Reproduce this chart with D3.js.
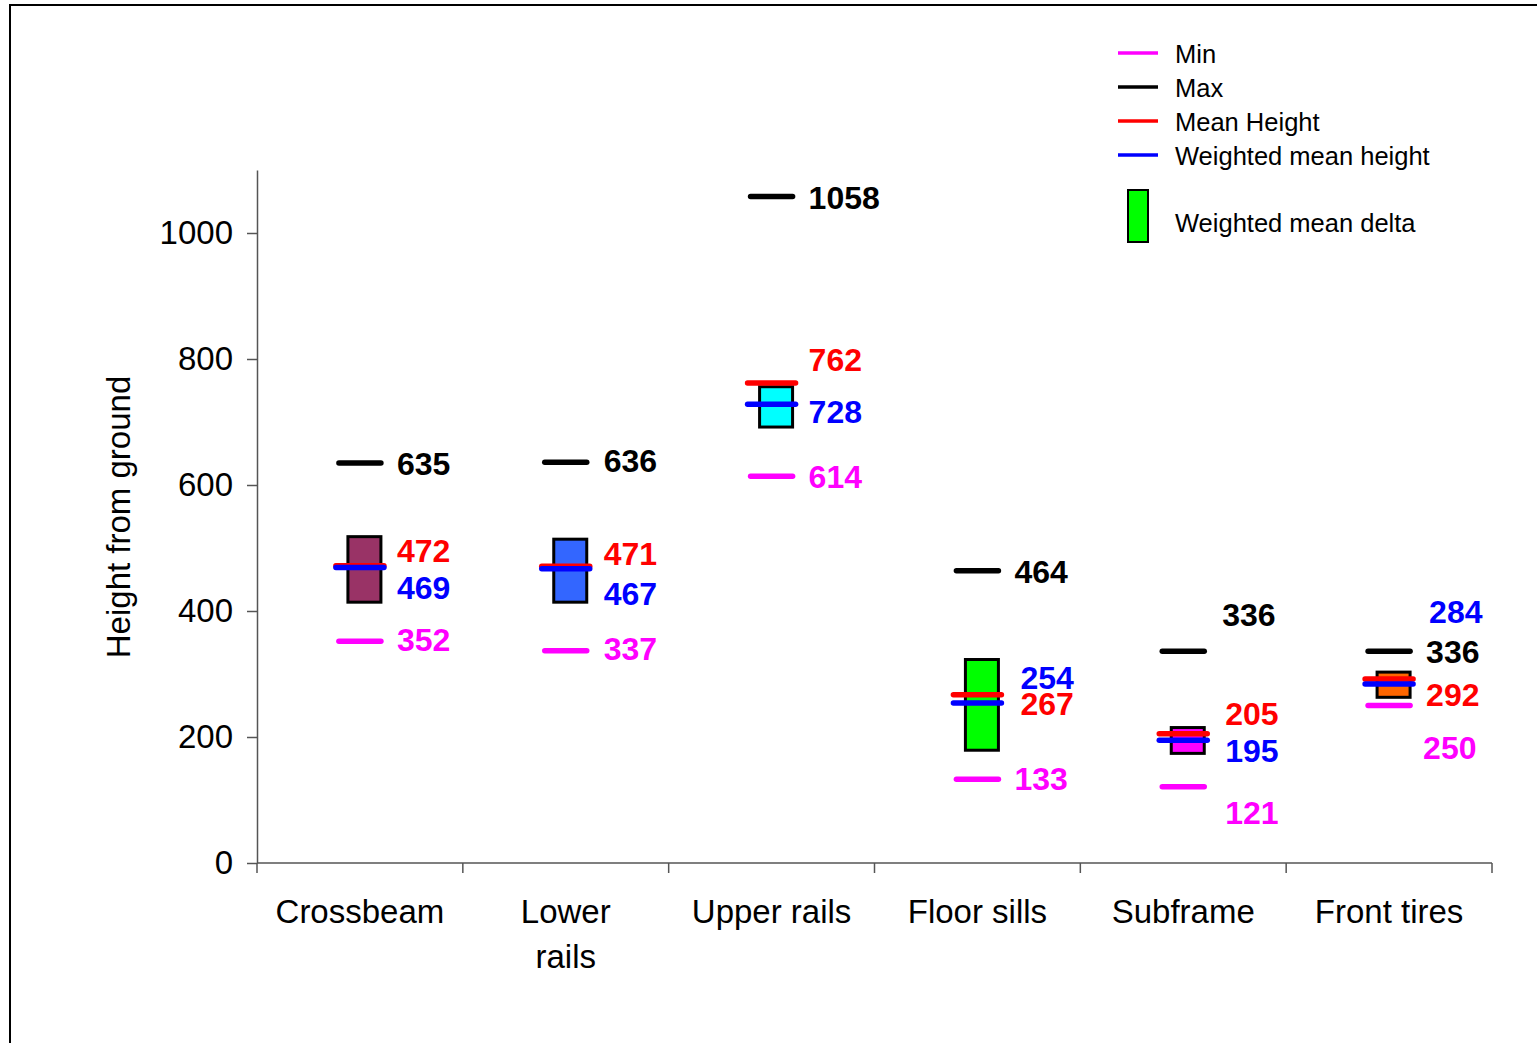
<!DOCTYPE html>
<html>
<head>
<meta charset="utf-8">
<script src="https://cdn.jsdelivr.net/npm/d3@7"></script>
<style>
  body { margin: 0; background: #fff; }
  text { font-family: "Liberation Sans", Arial, Helvetica, sans-serif; }
</style>
</head>
<body>
<svg id="chart" width="1537" height="1043"></svg>
<script>
// Measured heights from ground per vehicle component
const categories   = ["Crossbeam", "Lower rails", "Upper rails", "Floor sills", "Subframe", "Front tires"];
const maxValues    = [635, 636, 1058, 464, 336, 336];
const minValues    = [352, 337, 614, 133, 121, 250];
const meanHeight   = [472, 471, 762, 267, 205, 292];
const weightedMean = [469, 467, 728, 254, 195, 284];
// weighted mean delta band (low / high edge)
const deltaLow     = [414, 414, 692, 179, 174, 263];
const deltaHigh    = [518, 514, 756, 323, 215, 303];
const yTicks       = [0, 200, 400, 600, 800, 1000];

// styling / layout
const boxColors = ["#993366", "#3366FF", "#00FFFF", "#00FF00", "#FF00FF", "#FF6600"];
const categoryLines = [["Crossbeam"], ["Lower", "rails"], ["Upper rails"], ["Floor sills"], ["Subframe"], ["Front tires"]];
// data label nudges (px) so labels don't collide
const labelDy = {
  max:   [1, -1, 2, 1, -36, 1],
  mean:  [-15, -12, -23, 9, -20, 16],
  wmean: [20, 25, 8, -25, 11, -72],
  min:   [-1, -2, 1, 0, 26, 42]
};
const labelDx = {
  max:   [37, 38, 37, 37, 39, 37],
  mean:  [37, 38, 37, 43, 42, 37],
  wmean: [37, 38, 37, 43, 42, 40],
  min:   [37, 38, 37, 37, 42, 34]
};

const svg = d3.select("#chart");

// outer frame
svg.append("rect")
  .attr("x", 10).attr("y", 5).attr("width", 1600).attr("height", 1100)
  .attr("fill", "none").attr("stroke", "#000").attr("stroke-width", 2);

const x = d3.scaleBand().domain(categories).range([257, 1492]).padding(0);
const y = d3.scaleLinear().domain([0, 1100]).range([863, 170]);
const bw = x.bandwidth();
const cx = c => x(c) + bw / 2;

// Y axis
const yAxis = svg.append("g")
  .attr("transform", "translate(257,0)")
  .call(d3.axisLeft(y).tickValues(yTicks).tickFormat(d3.format("d"))
    .tickSize(10).tickSizeOuter(0).tickPadding(14));
yAxis.select(".domain").attr("stroke", "#555").attr("stroke-width", 1.5);
yAxis.selectAll(".tick line").attr("stroke", "#555").attr("stroke-width", 1.5);
yAxis.selectAll(".tick text")
  .attr("font-size", 33).attr("fill", "#000")
  .style("font-family", "'Liberation Sans', Arial, sans-serif");

// X axis line with ticks at category boundaries
svg.append("line")
  .attr("x1", x(categories[0])).attr("x2", x(categories[categories.length - 1]) + bw)
  .attr("y1", y(0)).attr("y2", y(0))
  .attr("stroke", "#555").attr("stroke-width", 1.5);
const boundaries = categories.map(c => x(c)).concat([x(categories[categories.length - 1]) + bw]);
svg.selectAll(".xtick").data(boundaries).join("line")
  .attr("class", "xtick")
  .attr("x1", d => d).attr("x2", d => d)
  .attr("y1", y(0)).attr("y2", y(0) + 10)
  .attr("stroke", "#555").attr("stroke-width", 1.5);

// category labels
const catText = svg.selectAll(".cat").data(categories).join("text")
  .attr("class", "cat")
  .attr("x", d => cx(d))
  .attr("y", 923)
  .attr("text-anchor", "middle")
  .attr("font-size", 33)
  .attr("fill", "#000");
catText.each(function (d, i) {
  d3.select(this).selectAll("tspan").data(categoryLines[i]).join("tspan")
    .attr("x", cx(d))
    .attr("dy", (t, j) => j === 0 ? 0 : 45)
    .text(t => t);
});

// Y axis title
svg.append("text")
  .attr("transform", "translate(130,517) rotate(-90)")
  .attr("text-anchor", "middle")
  .attr("font-size", 33)
  .attr("fill", "#000")
  .text("Height from ground");

// weighted mean delta boxes
svg.selectAll(".delta").data(categories).join("rect")
  .attr("class", "delta")
  .attr("x", d => cx(d) - 12)
  .attr("width", 33)
  .attr("y", (d, i) => y(deltaHigh[i]))
  .attr("height", (d, i) => y(deltaLow[i]) - y(deltaHigh[i]))
  .attr("fill", (d, i) => boxColors[i])
  .attr("stroke", "#000").attr("stroke-width", 3);

// horizontal level marks
function levelMarks(cls, values, color, half, width) {
  svg.selectAll("." + cls).data(categories).join("line")
    .attr("class", cls)
    .attr("x1", d => cx(d) - half).attr("x2", d => cx(d) + half)
    .attr("y1", (d, i) => y(values[i])).attr("y2", (d, i) => y(values[i]))
    .attr("stroke", color).attr("stroke-width", width)
    .attr("stroke-linecap", "round");
}
levelMarks("maxMark", maxValues, "#000", 21, 5.5);
levelMarks("minMark", minValues, "#FF00FF", 21, 5.5);
levelMarks("meanMark", meanHeight, "#FF0000", 24, 5.5);
levelMarks("wmeanMark", weightedMean, "#0000FF", 24, 5.5);

// value labels
function valueLabels(cls, values, color, key) {
  svg.selectAll("." + cls).data(categories).join("text")
    .attr("class", cls)
    .attr("x", (d, i) => cx(d) + labelDx[key][i])
    .attr("y", (d, i) => y(values[i]) + labelDy[key][i] + 11)
    .attr("font-size", 32)
    .attr("font-weight", "bold")
    .attr("fill", color)
    .text((d, i) => values[i]);
}
valueLabels("maxLbl", maxValues, "#000", "max");
valueLabels("meanLbl", meanHeight, "#FF0000", "mean");
valueLabels("wmeanLbl", weightedMean, "#0000FF", "wmean");
valueLabels("minLbl", minValues, "#FF00FF", "min");

// legend
const legendItems = [
  { label: "Min", color: "#FF00FF" },
  { label: "Max", color: "#000000" },
  { label: "Mean Height", color: "#FF0000" },
  { label: "Weighted mean height", color: "#0000FF" }
];
const legend = svg.append("g");
legendItems.forEach((item, i) => {
  const ly = 53 + i * 34;
  legend.append("line")
    .attr("x1", 1118).attr("x2", 1158).attr("y1", ly).attr("y2", ly)
    .attr("stroke", item.color).attr("stroke-width", 3.5);
  legend.append("text")
    .attr("x", 1175).attr("y", ly + 9.5)
    .attr("font-size", 25.5).attr("fill", "#000")
    .text(item.label);
});
legend.append("rect")
  .attr("x", 1128).attr("y", 190).attr("width", 20).attr("height", 52)
  .attr("fill", "#00FF00").attr("stroke", "#000").attr("stroke-width", 2);
legend.append("text")
  .attr("x", 1175).attr("y", 232)
  .attr("font-size", 25.5).attr("fill", "#000")
  .text("Weighted mean delta");
</script>
</body>
</html>
